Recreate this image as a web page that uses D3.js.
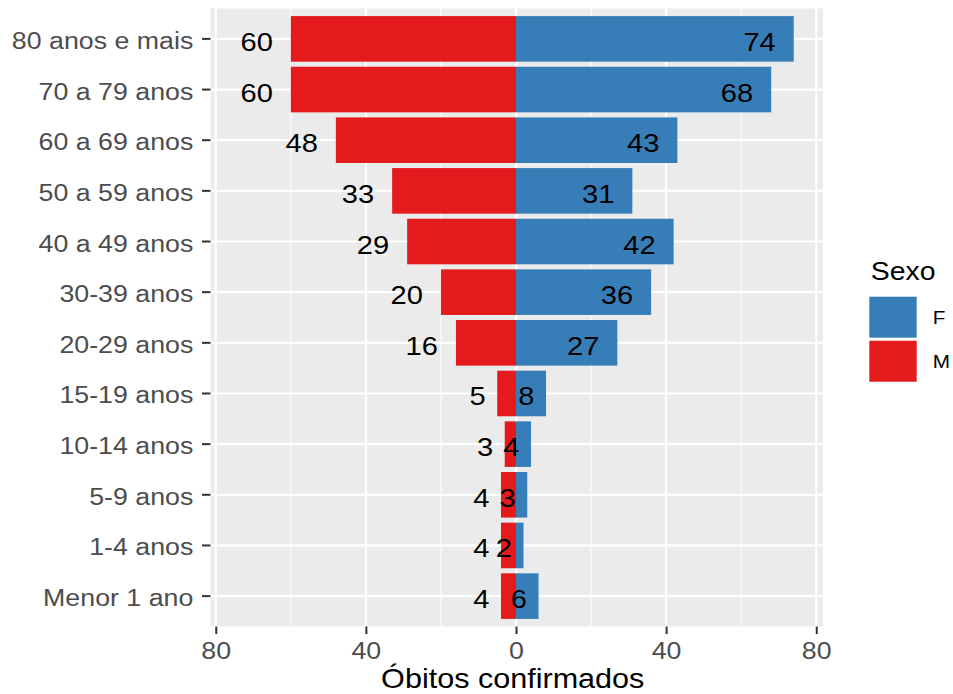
<!DOCTYPE html>
<html><head><meta charset="utf-8">
<script src="https://cdn.jsdelivr.net/npm/d3@7"></script>
<style>body{margin:0;background:#fff} svg{display:block} text{font-family:"Liberation Sans",Arial,sans-serif}</style>
</head><body>
<svg id="chart" width="953" height="694"></svg>
<script>
const categories = ["80 anos e mais","70 a 79 anos","60 a 69 anos","50 a 59 anos","40 a 49 anos","30-39 anos","20-29 anos","15-19 anos","10-14 anos","5-9 anos","1-4 anos","Menor 1 ano"];
const femaleValues = [74,68,43,31,42,36,27,8,4,3,2,6];
const maleValues = [60,60,48,33,29,20,16,5,3,4,4,4];
const xTickValues = [-80,-40,0,40,80];
const xMinorValues = [-60,-20,20,60];
const sexLabels = ["F","M"];
const sexColors = ["#377EB8","#E41A1C"];
const xTitle = "Óbitos confirmados";
const legendTitle = "Sexo";

const SX = 1.12;
const P = {l:210.5, r:823, t:8.5, b:626.5};
const x = d3.scaleLinear().domain([-81.4, 81.8]).range([P.l, P.r]);
const y = d3.scaleBand().domain(categories).range([P.t, P.b]).paddingInner(0.1).paddingOuter(0.15);
const color = d3.scaleOrdinal().domain(sexLabels).range(sexColors);
const cy = c => y(c) + y.bandwidth()/2;

const svg = d3.select("#chart");
svg.append("rect").attr("x",P.l).attr("y",P.t).attr("width",P.r-P.l).attr("height",P.b-P.t).attr("fill","#EBEBEB");

const grid = svg.append("g");
grid.selectAll("line.minor").data(xMinorValues).join("line").attr("class","minor")
  .attr("x1",d=>x(d)).attr("x2",d=>x(d)).attr("y1",P.t).attr("y2",P.b)
  .attr("stroke","#fff").attr("stroke-width",1.1);
grid.selectAll("line.major").data(xTickValues).join("line").attr("class","major")
  .attr("x1",d=>x(d)).attr("x2",d=>x(d)).attr("y1",P.t).attr("y2",P.b)
  .attr("stroke","#fff").attr("stroke-width",2.2);
grid.selectAll("line.h").data(categories).join("line").attr("class","h")
  .attr("x1",P.l).attr("x2",P.r).attr("y1",d=>cy(d)).attr("y2",d=>cy(d))
  .attr("stroke","#fff").attr("stroke-width",2.2);

const rows = categories.map((c,i)=>({cat:c, F:femaleValues[i], M:maleValues[i]}));

const bars = svg.append("g");
bars.selectAll("rect.f").data(rows).join("rect").attr("class","f")
  .attr("x",x(0)).attr("width",d=>x(d.F)-x(0))
  .attr("y",d=>y(d.cat)).attr("height",y.bandwidth()).attr("fill",color("F"));
bars.selectAll("rect.m").data(rows).join("rect").attr("class","m")
  .attr("x",d=>x(-d.M)).attr("width",d=>x(0)-x(-d.M))
  .attr("y",d=>y(d.cat)).attr("height",y.bandwidth()).attr("fill",color("M"));

// value labels
const labelData = [];
rows.forEach(r=>{
  labelData.push({cat:r.cat, v:r.F, pos:r.F});
  labelData.push({cat:r.cat, v:r.M, pos:-r.M});
});
const LFS = 26;
svg.append("g").selectAll("text").data(labelData).join("text")
  .attr("font-size",LFS).attr("fill","#000").attr("text-anchor","end")
  .text(d=>d.v)
  .each(function(d){
    const w = this.getComputedTextLength()*SX;
    const gap = 5 + 0.4*w;
    d3.select(this).attr("transform",`translate(${x(d.pos)-gap},${cy(d.cat)+12}) scale(${SX},1)`);
  });

// x axis
const xAxis = d3.axisBottom(x).tickValues(xTickValues).tickFormat(d=>Math.abs(d)).tickSize(7.5);
const gx = svg.append("g").attr("transform",`translate(0,${P.b})`).call(xAxis);
gx.select(".domain").remove();
gx.selectAll(".tick line").attr("stroke","#333").attr("stroke-width",2);
gx.selectAll(".tick text").attr("fill","#4D4D4D").attr("font-size",23.9)
  .attr("font-family",'"Liberation Sans",Arial,sans-serif')
  .attr("y",0).attr("dy",null).attr("transform",`translate(0,32.8) scale(${SX},1)`);

// y axis
const yAxis = d3.axisLeft(y).tickSize(8.5);
const gy = svg.append("g").attr("transform",`translate(${P.l},0)`).call(yAxis);
gy.select(".domain").remove();
gy.selectAll(".tick line").attr("stroke","#333").attr("stroke-width",2);
gy.selectAll(".tick text").attr("fill","#4D4D4D").attr("font-size",23.9)
  .attr("font-family",'"Liberation Sans",Arial,sans-serif')
  .attr("x",0).attr("dy",null).attr("transform",`translate(-17.2,10) scale(${SX},1)`);

// x title
svg.append("text").attr("font-size",27.3).attr("fill","#000").attr("text-anchor","middle")
  .attr("transform",`translate(${(P.l+P.r)/2 - 4},688) scale(${SX},1)`).text(xTitle);

// legend
const lg = svg.append("g");
lg.append("text").attr("font-size",25.4).attr("fill","#000")
  .attr("transform",`translate(870.7,280) scale(${SX},1)`).text(legendTitle);
const ky = d3.scaleBand().domain(sexLabels).range([296.7, 381.7]).paddingInner(0.07).paddingOuter(0);
lg.selectAll("rect").data(sexLabels).join("rect")
  .attr("x",869.3).attr("y",d=>ky(d)).attr("width",47.4).attr("height",ky.bandwidth())
  .attr("fill",d=>color(d));
lg.selectAll("text.lab").data(sexLabels).join("text").attr("class","lab")
  .attr("font-size",18.5).attr("fill","#000")
  .attr("transform",d=>`translate(932.7,${ky(d)+ky.bandwidth()/2+7}) scale(${SX},1)`).text(d=>d);
</script>
</body></html>
